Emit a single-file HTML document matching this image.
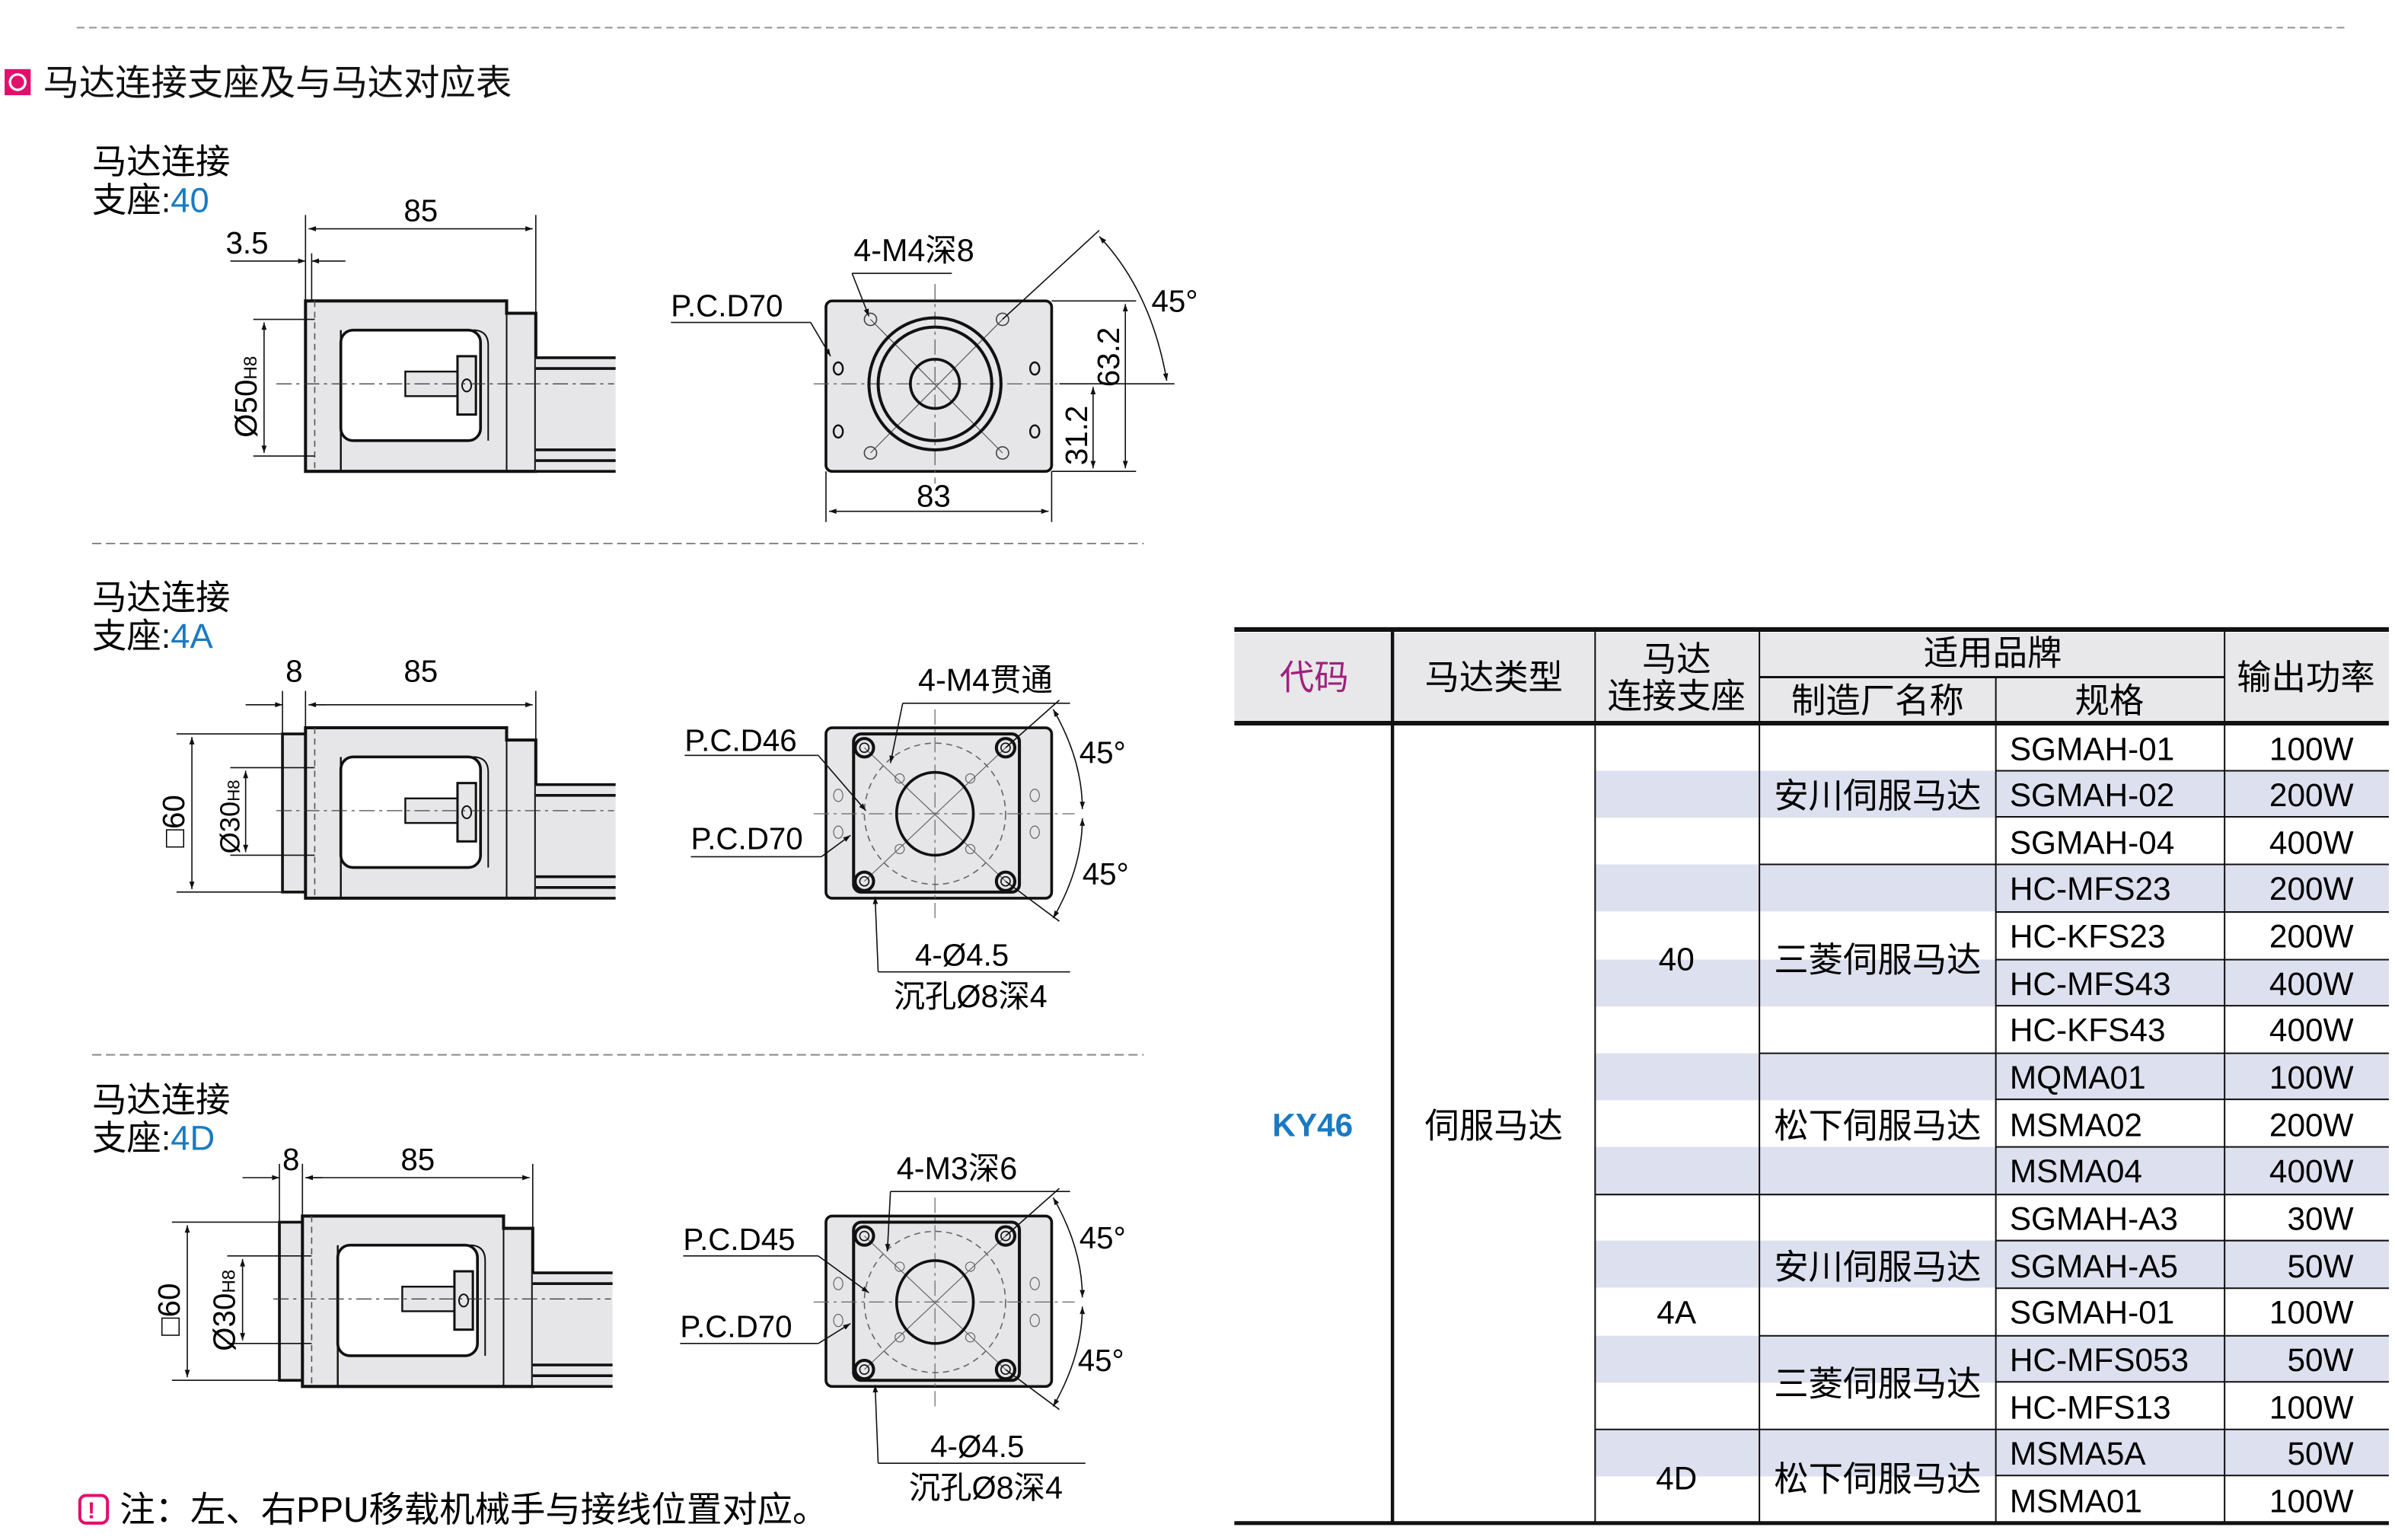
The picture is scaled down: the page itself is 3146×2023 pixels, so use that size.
<!DOCTYPE html>
<html><head><meta charset="utf-8"><style>
html,body{margin:0;padding:0;background:#fff;}
svg{display:block;}
text{font-family:"Liberation Sans","Noto Sans CJK SC",sans-serif;}
</style></head><body>
<svg width="3146" height="2023" viewBox="0 0 1560 1003" preserveAspectRatio="none" xmlns="http://www.w3.org/2000/svg">
<defs>
<marker id="a" viewBox="0 0 10 10" refX="10" refY="5" markerWidth="8" markerHeight="6" orient="auto-start-reverse"><path d="M0,1.5L10,5L0,8.5z" fill="#111"/></marker>
<g id="side">
  <path d="M199,196H330V204H349V307H199Z" fill="#e6e6e8" stroke="#111" stroke-width="2"/>
  <line x1="205" y1="196" x2="205" y2="307" stroke="#555" stroke-width="0.8" stroke-dasharray="4,3"/>
  <line x1="222" y1="215" x2="222" y2="307" stroke="#111" stroke-width="1.2"/>
  <line x1="330" y1="204" x2="330" y2="307" stroke="#111" stroke-width="1"/>
  <rect x="222" y="215" width="91" height="72" rx="8" fill="#fff" stroke="#111" stroke-width="1.8"/>
  <path d="M308,215 Q318,215 318,225 V287" fill="none" stroke="#111" stroke-width="1"/>
  <rect x="264" y="242" width="36" height="16" fill="#e6e6e8" stroke="#111" stroke-width="1.2"/>
  <rect x="298" y="232" width="12" height="38" fill="#e6e6e8" stroke="#111" stroke-width="1.5"/>
  <ellipse cx="304" cy="251" rx="3" ry="4" fill="none" stroke="#111"/>
  <rect x="349" y="233" width="52" height="74" fill="#e6e6e8"/>
  <path d="M349,233H401M349,240H401M349,293H401M349,300H401M349,307H401" stroke="#111" stroke-width="1.8"/>
  <line x1="180" y1="250" x2="400" y2="250" stroke="#333" stroke-width="0.6" stroke-dasharray="10,3,2,3"/>
</g>
</defs>

<line x1="50" y1="18" x2="1530" y2="18" stroke="#999" stroke-dasharray="5,3"/>
<line x1="60" y1="354" x2="745" y2="354" stroke="#888" stroke-dasharray="6,3"/>
<line x1="60" y1="687" x2="745" y2="687" stroke="#888" stroke-dasharray="6,3"/>

<rect x="3" y="45" width="17" height="17" fill="#e0106e"/>
<circle cx="11.5" cy="53.5" r="5" fill="none" stroke="#fff" stroke-width="1.6"/>
<text x="28" y="62" font-size="23.5" fill="#111">马达连接支座及与马达对应表</text>

<text x="60" y="113" font-size="22.5">马达连接</text>
<text x="60" y="138" font-size="22.5">支座:<tspan fill="#1a7ac2">40</tspan></text>
<text x="60" y="397" font-size="22.5">马达连接</text>
<text x="60" y="422" font-size="22.5">支座:<tspan fill="#1a7ac2">4A</tspan></text>
<text x="60" y="724" font-size="22.5">马达连接</text>
<text x="60" y="749" font-size="22.5">支座:<tspan fill="#1a7ac2">4D</tspan></text>

<!-- Section 1 side -->
<use href="#side"/>
<g stroke="#111" stroke-width="0.8" fill="none">
<line x1="199" y1="140" x2="199" y2="196"/><line x1="349" y1="140" x2="349" y2="204"/>
<line x1="201" y1="149" x2="347" y2="149" marker-start="url(#a)" marker-end="url(#a)"/>
<line x1="203" y1="165" x2="203" y2="196"/>
<line x1="150" y1="170" x2="199" y2="170" marker-end="url(#a)"/><line x1="225" y1="170" x2="203" y2="170" marker-end="url(#a)"/>
<line x1="165" y1="208" x2="205" y2="208"/><line x1="165" y1="297" x2="205" y2="297"/>
<line x1="172" y1="210" x2="172" y2="295" marker-start="url(#a)" marker-end="url(#a)"/>
</g>
<text x="263" y="144" font-size="20">85</text>
<text x="147" y="165" font-size="20">3.5</text>
<text transform="translate(167,285) rotate(-90)" font-size="20">Ø50<tspan font-size="12">H8</tspan></text>

<!-- Section 1 front -->
<rect x="538" y="196" width="147" height="111" rx="4" fill="#e6e6e8" stroke="#111" stroke-width="1.8"/>
<g stroke="#555" stroke-width="0.6" fill="none">
<line x1="609" y1="185" x2="609" y2="315" stroke-dasharray="10,3,2,3"/>
<line x1="530" y1="250" x2="700" y2="250" stroke-dasharray="10,3,2,3"/>
<line x1="567" y1="208" x2="653" y2="295"/><line x1="653" y1="208" x2="567" y2="295"/>
</g>
<circle cx="609" cy="250" r="43" fill="none" stroke="#111" stroke-width="2"/>
<circle cx="609" cy="250" r="37" fill="none" stroke="#111" stroke-width="2"/>
<circle cx="609" cy="250" r="16" fill="none" stroke="#111" stroke-width="1.8"/>
<g fill="none" stroke="#444" stroke-width="0.8">
<circle cx="567" cy="208" r="4"/><circle cx="653" cy="208" r="4"/><circle cx="567" cy="295" r="4"/><circle cx="653" cy="295" r="4"/>
</g>
<g fill="none" stroke="#111" stroke-width="1.2">
<ellipse cx="546" cy="240" rx="3" ry="4"/><ellipse cx="674" cy="240" rx="3" ry="4"/><ellipse cx="546" cy="281" rx="3" ry="4"/><ellipse cx="674" cy="281" rx="3" ry="4"/>
</g>
<g stroke="#111" stroke-width="0.8" fill="none">
<line x1="555" y1="178" x2="620" y2="178"/><line x1="555" y1="178" x2="566" y2="206" marker-end="url(#a)"/>
<line x1="437" y1="210" x2="528" y2="210"/><line x1="528" y1="210" x2="541" y2="232" marker-end="url(#a)"/>
<line x1="538" y1="307" x2="538" y2="340"/><line x1="685" y1="307" x2="685" y2="340"/>
<line x1="540" y1="333" x2="683" y2="333" marker-start="url(#a)" marker-end="url(#a)"/>
<line x1="685" y1="196" x2="740" y2="196"/><line x1="685" y1="307" x2="740" y2="307"/>
<line x1="733" y1="198" x2="733" y2="305" marker-start="url(#a)" marker-end="url(#a)"/>
<line x1="690" y1="250" x2="765" y2="250"/>
<line x1="712" y1="252" x2="712" y2="305" marker-start="url(#a)" marker-end="url(#a)"/>
<line x1="653" y1="208" x2="716" y2="150"/>
<path d="M716,154 Q750,190 760,248" marker-start="url(#a)" marker-end="url(#a)"/>
</g>
<text x="556" y="170" font-size="20.5">4-M4深8</text>
<text x="437" y="206" font-size="20">P.C.D70</text>
<text x="597" y="330" font-size="20">83</text>
<text x="750" y="203" font-size="20">45°</text>
<text transform="translate(729,252) rotate(-90)" font-size="20">63.2</text>
<text transform="translate(708,303) rotate(-90)" font-size="20">31.2</text>

<!-- Section 2 side -->
<g transform="translate(0,278)">
<rect x="184" y="200" width="15" height="103" fill="#e6e6e8" stroke="#111" stroke-width="1.8"/>
<use href="#side"/>
</g>
<g stroke="#111" stroke-width="0.8" fill="none">
<line x1="184" y1="450" x2="184" y2="478"/><line x1="199" y1="450" x2="199" y2="474"/><line x1="349" y1="450" x2="349" y2="482"/>
<line x1="160" y1="459" x2="184" y2="459" marker-end="url(#a)"/><line x1="212" y1="459" x2="201" y2="459" marker-end="url(#a)"/>
<line x1="201" y1="459" x2="347" y2="459" marker-end="url(#a)"/>
<line x1="115" y1="478" x2="184" y2="478"/><line x1="115" y1="581" x2="184" y2="581"/>
<line x1="125" y1="480" x2="125" y2="579" marker-start="url(#a)" marker-end="url(#a)"/>
<line x1="150" y1="500" x2="205" y2="500"/><line x1="150" y1="557" x2="205" y2="557"/>
<line x1="160" y1="502" x2="160" y2="555" marker-start="url(#a)" marker-end="url(#a)"/>
</g>
<text x="186" y="444" font-size="20">8</text>
<text x="263" y="444" font-size="20">85</text>
<text transform="translate(120,552) rotate(-90)" font-size="20">□60</text>
<text transform="translate(156,556) rotate(-90)" font-size="18">Ø30<tspan font-size="11">H8</tspan></text>

<!-- Section 2 front -->
<g id="f2">
<rect x="538" y="474" width="147" height="111" rx="4" fill="#e6e6e8" stroke="#111" stroke-width="1.8"/>
<rect x="556" y="478" width="108" height="103" rx="5" fill="none" stroke="#111" stroke-width="2"/>
<circle cx="609" cy="530" r="46" fill="none" stroke="#666" stroke-width="0.8" stroke-dasharray="4,3"/>
<g stroke="#666" stroke-width="0.6" fill="none">
<line x1="609" y1="462" x2="609" y2="598" stroke-dasharray="10,3,2,3"/>
<line x1="530" y1="530" x2="700" y2="530" stroke-dasharray="10,3,2,3"/>
<line x1="563" y1="487" x2="655" y2="574"/><line x1="655" y1="487" x2="563" y2="574"/>
<circle cx="586" cy="507" r="3"/><circle cx="632" cy="507" r="3"/><circle cx="586" cy="553" r="3"/><circle cx="632" cy="553" r="3"/>
<ellipse cx="546" cy="518" rx="3" ry="4"/><ellipse cx="674" cy="518" rx="3" ry="4"/><ellipse cx="546" cy="542" rx="3" ry="4"/><ellipse cx="674" cy="542" rx="3" ry="4"/>
</g>
<ellipse cx="609" cy="530" rx="25" ry="27" fill="none" stroke="#111" stroke-width="1.8"/>
<g fill="none" stroke="#111" stroke-width="2">
<circle cx="563" cy="487" r="6"/><circle cx="655" cy="487" r="6"/><circle cx="563" cy="574" r="6"/><circle cx="655" cy="574" r="6"/>
</g>
<g fill="none" stroke="#111" stroke-width="0.8">
<circle cx="563" cy="487" r="3"/><circle cx="655" cy="487" r="3"/><circle cx="563" cy="574" r="3"/><circle cx="655" cy="574" r="3"/>
</g>
</g>
<g stroke="#111" stroke-width="0.8" fill="none">
<line x1="588" y1="458" x2="697" y2="458"/><line x1="588" y1="458" x2="580" y2="497" marker-end="url(#a)"/>
<line x1="446" y1="492" x2="533" y2="492"/><line x1="533" y1="492" x2="564" y2="528" marker-end="url(#a)"/>
<line x1="450" y1="558" x2="535" y2="558"/><line x1="535" y1="558" x2="554" y2="544" marker-end="url(#a)"/>
<line x1="572" y1="633" x2="697" y2="633"/><line x1="572" y1="633" x2="570" y2="584" marker-end="url(#a)"/>
<line x1="655" y1="487" x2="690" y2="456"/><line x1="655" y1="574" x2="690" y2="600"/>
<path d="M686,462 Q705,495 705,527" marker-start="url(#a)" marker-end="url(#a)"/>
<path d="M705,533 Q705,565 686,598" marker-start="url(#a)" marker-end="url(#a)"/>
</g>
<text x="598" y="450" font-size="20.5">4-M4贯通</text>
<text x="446" y="489" font-size="20">P.C.D46</text>
<text x="450" y="553" font-size="20">P.C.D70</text>
<text x="703" y="497" font-size="20">45°</text>
<text x="705" y="576" font-size="20">45°</text>
<text x="596" y="629" font-size="20">4-Ø4.5</text>
<text x="582" y="656" font-size="20.5">沉孔Ø8深4</text>

<!-- Section 3 side -->
<g transform="translate(-2,596)">
<rect x="184" y="200" width="15" height="103" fill="#e6e6e8" stroke="#111" stroke-width="1.8"/>
<use href="#side"/>
</g>
<g stroke="#111" stroke-width="0.8" fill="none">
<line x1="182" y1="758" x2="182" y2="796"/><line x1="197" y1="758" x2="197" y2="792"/><line x1="347" y1="758" x2="347" y2="800"/>
<line x1="158" y1="767" x2="182" y2="767" marker-end="url(#a)"/><line x1="210" y1="767" x2="199" y2="767" marker-end="url(#a)"/>
<line x1="199" y1="767" x2="345" y2="767" marker-end="url(#a)"/>
<line x1="112" y1="796" x2="182" y2="796"/><line x1="112" y1="899" x2="182" y2="899"/>
<line x1="122" y1="798" x2="122" y2="897" marker-start="url(#a)" marker-end="url(#a)"/>
<line x1="148" y1="818" x2="203" y2="818"/><line x1="148" y1="875" x2="203" y2="875"/>
<line x1="158" y1="820" x2="158" y2="873" marker-start="url(#a)" marker-end="url(#a)"/>
</g>
<text x="184" y="762" font-size="20">8</text>
<text x="261" y="762" font-size="20">85</text>
<text transform="translate(117,870) rotate(-90)" font-size="20">□60</text>
<text transform="translate(153,880) rotate(-90)" font-size="20">Ø30<tspan font-size="12">H8</tspan></text>

<!-- Section 3 front -->
<use href="#f2" transform="translate(0,318)"/>
<g stroke="#111" stroke-width="0.8" fill="none">
<line x1="580" y1="776" x2="697" y2="776"/><line x1="580" y1="776" x2="578" y2="815" marker-end="url(#a)"/>
<line x1="445" y1="818" x2="533" y2="818"/><line x1="533" y1="818" x2="566" y2="842" marker-end="url(#a)"/>
<line x1="443" y1="875" x2="533" y2="875"/><line x1="533" y1="875" x2="554" y2="862" marker-end="url(#a)"/>
<line x1="572" y1="953" x2="707" y2="953"/><line x1="572" y1="953" x2="570" y2="902" marker-end="url(#a)"/>
<line x1="655" y1="805" x2="690" y2="774"/><line x1="655" y1="892" x2="690" y2="918"/>
<path d="M686,780 Q705,813 705,845" marker-start="url(#a)" marker-end="url(#a)"/>
<path d="M705,851 Q705,883 686,916" marker-start="url(#a)" marker-end="url(#a)"/>
</g>
<text x="584" y="768" font-size="20.5">4-M3深6</text>
<text x="445" y="814" font-size="20">P.C.D45</text>
<text x="443" y="871" font-size="20">P.C.D70</text>
<text x="703" y="813" font-size="20">45°</text>
<text x="702" y="893" font-size="20">45°</text>
<text x="606" y="949" font-size="20">4-Ø4.5</text>
<text x="592" y="976" font-size="20.5">沉孔Ø8深4</text>

<rect x="52" y="974" width="18" height="18" rx="4" fill="none" stroke="#e0106e" stroke-width="2"/>
<text x="57" y="989" font-size="15" font-weight="bold" fill="#e0106e">!</text>
<text x="78" y="991" font-size="23">注：左、右PPU移载机械手与接线位置对应。</text>

<!-- Table -->
<rect x="804" y="412" width="752" height="59" fill="#e8e8ea"/>
<g fill="#dde0ee">
<rect x="1039" y="502" width="517" height="30.6"/>
<rect x="1039" y="563" width="517" height="30.6"/>
<rect x="1039" y="625" width="517" height="30.6"/>
<rect x="1039" y="686" width="517" height="30.6"/>
<rect x="1039" y="747" width="517" height="30.6"/>
<rect x="1039" y="808" width="517" height="30.6"/>
<rect x="1039" y="870" width="517" height="30.6"/>
<rect x="1039" y="931" width="517" height="30.6"/>
</g>
<g stroke="#111">
<line x1="804" y1="410" x2="1556" y2="410" stroke-width="3"/>
<line x1="804" y1="471" x2="1556" y2="471" stroke-width="3"/>
<line x1="804" y1="992" x2="1556" y2="992" stroke-width="2.5"/>
<line x1="907" y1="410" x2="907" y2="992" stroke-width="2.2"/>
<line x1="1039" y1="410" x2="1039" y2="992" stroke-width="1"/>
<line x1="1146" y1="410" x2="1146" y2="992" stroke-width="1"/>
<line x1="1300" y1="441" x2="1300" y2="992" stroke-width="1"/>
<line x1="1449" y1="410" x2="1449" y2="992" stroke-width="1"/>
<line x1="1146" y1="441" x2="1449" y2="441" stroke-width="1.5"/>
<g stroke-width="1">
<line x1="1300" y1="502" x2="1556" y2="502"/><line x1="1300" y1="532" x2="1556" y2="532"/>
<line x1="1146" y1="563" x2="1556" y2="563"/><line x1="1300" y1="594" x2="1556" y2="594"/>
<line x1="1300" y1="625" x2="1556" y2="625"/><line x1="1300" y1="655" x2="1556" y2="655"/>
<line x1="1146" y1="686" x2="1556" y2="686"/><line x1="1300" y1="716" x2="1556" y2="716"/>
<line x1="1300" y1="747" x2="1556" y2="747"/><line x1="1039" y1="778" x2="1556" y2="778"/>
<line x1="1300" y1="808" x2="1556" y2="808"/><line x1="1300" y1="839" x2="1556" y2="839"/>
<line x1="1146" y1="870" x2="1556" y2="870"/><line x1="1300" y1="900" x2="1556" y2="900"/>
<line x1="1039" y1="931" x2="1556" y2="931"/><line x1="1300" y1="961" x2="1556" y2="961"/>
</g>
</g>
<g font-size="22.5" text-anchor="middle">
<text x="856" y="449" fill="#a0207e">代码</text>
<text x="973" y="449">马达类型</text>
<text x="1092" y="437">马达</text>
<text x="1092" y="461">连接支座</text>
<text x="1298" y="433">适用品牌</text>
<text x="1223" y="464">制造厂名称</text>
<text x="1374" y="464">规格</text>
<text x="1502" y="449">输出功率</text>
<text x="855" y="740" fill="#1a7ac2" font-weight="bold" font-size="21">KY46</text>
<text x="973" y="741">伺服马达</text>
<text x="1092" y="632" font-size="21">40</text>
<text x="1092" y="862" font-size="21">4A</text>
<text x="1092" y="970" font-size="21">4D</text>
<text x="1223" y="526">安川伺服马达</text>
<text x="1223" y="633">三菱伺服马达</text>
<text x="1223" y="741">松下伺服马达</text>
<text x="1223" y="833">安川伺服马达</text>
<text x="1223" y="909">三菱伺服马达</text>
<text x="1223" y="971">松下伺服马达</text>
</g>
<g font-size="21">
<g text-anchor="start">
<text x="1309" y="495">SGMAH-01</text><text x="1309" y="525">SGMAH-02</text><text x="1309" y="556">SGMAH-04</text>
<text x="1309" y="586">HC-MFS23</text><text x="1309" y="617">HC-KFS23</text><text x="1309" y="648">HC-MFS43</text>
<text x="1309" y="678">HC-KFS43</text><text x="1309" y="709">MQMA01</text><text x="1309" y="740">MSMA02</text>
<text x="1309" y="770">MSMA04</text><text x="1309" y="801">SGMAH-A3</text><text x="1309" y="832">SGMAH-A5</text>
<text x="1309" y="862">SGMAH-01</text><text x="1309" y="893">HC-MFS053</text><text x="1309" y="924">HC-MFS13</text>
<text x="1309" y="954">MSMA5A</text><text x="1309" y="985">MSMA01</text>
</g>
<g text-anchor="end">
<text x="1533" y="495">100W</text><text x="1533" y="525">200W</text><text x="1533" y="556">400W</text>
<text x="1533" y="586">200W</text><text x="1533" y="617">200W</text><text x="1533" y="648">400W</text>
<text x="1533" y="678">400W</text><text x="1533" y="709">100W</text><text x="1533" y="740">200W</text>
<text x="1533" y="770">400W</text><text x="1533" y="801">30W</text><text x="1533" y="832">50W</text>
<text x="1533" y="862">100W</text><text x="1533" y="893">50W</text><text x="1533" y="924">100W</text>
<text x="1533" y="954">50W</text><text x="1533" y="985">100W</text>
</g>
</g>
</svg>
</body></html>
